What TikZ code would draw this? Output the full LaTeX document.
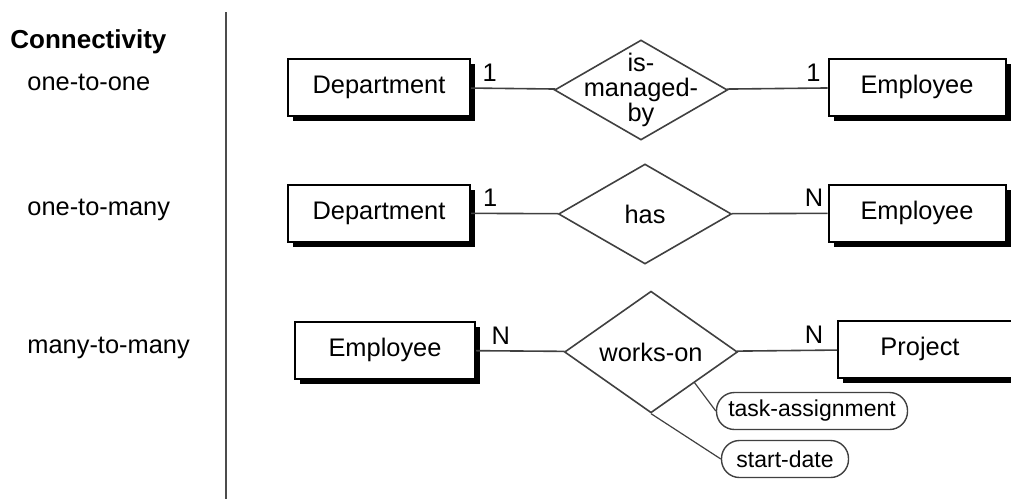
\documentclass[tikz,border=0pt]{standalone}
\usepackage{fontspec}
\setmainfont{Liberation Sans}
\usetikzlibrary{shapes.geometric, shadows}

\begin{document}
\begin{tikzpicture}[
    x=0.5pt, y=-0.5pt,
    font=\fontsize{12.7}{12.5}\selectfont,
    entity/.style={rectangle, draw=black, line width=1pt, fill=white, minimum height=28.5pt, inner sep=0pt, drop shadow={shadow xshift=2.5pt, shadow yshift=-2.5pt, fill=black, opacity=1}},
    relation/.style={diamond, draw=black!75, line width=0.8pt, fill=white, minimum width=86.5pt, minimum height=50pt, inner sep=0pt},
    attrib/.style={rectangle, rounded corners=9pt, draw=black!75, line width=0.7pt, minimum height=18.5pt, inner sep=0pt, font=\fontsize{11.5}{12}\selectfont},
    link/.style={draw=black!75, line width=0.8pt},
    card/.style={above, inner sep=3pt},
    kind/.style={anchor=west, inner sep=0pt}
]
    \useasboundingbox (0,0) rectangle (1011,499);
    \clip (0,0) rectangle (1011,499);

    % Left column
    \node[kind, font=\fontsize{13}{13}\selectfont\bfseries] (title) at (10,42) {Connectivity};
    \node[kind] (oneone) at (27,82) {one-to-one};
    \node[kind] (onemany) at (27,210) {one-to-many};
    \node[kind] (manymany) at (27,348) {many-to-many};
    \draw[black!70, line width=0.9pt] (226,12) -- (226,499);

    % Nodes
    \node[entity, minimum width=91pt] (dept1) at (379,87) {Department};
    \node[relation, label={[align=center]center:is-\\managed-\\by}] (rel1) at (641,90) {};
    \node[entity, minimum width=88.5pt] (emp1) at (917,87) {Employee};

    \node[entity, minimum width=91pt] (dept2) at (379,213) {Department};
    \node[relation] (rel2) at (645,214) {has};
    \node[entity, minimum width=88.5pt] (emp2) at (917,213) {Employee};

    \node[entity, minimum width=90pt] (emp3) at (385,350) {Employee};
    \node[relation] (rel3) at (651,352) {works-on};
    \node[entity, minimum width=101pt, label={[xshift=-9.5pt]center:Project}] (proj) at (939,349) {};

    \node[attrib, minimum width=95.5pt] (task) at (812,411) {task-assignment};
    \node[attrib, minimum width=63.5pt] (start) at (785,459) {start-date};

    % Connectors
    \draw[link] (dept1) -- node[card, pos=0.22] (c1a) {1} (rel1);
    \draw[link] (rel1) -- node[card, pos=0.86] (c1b) {1} (emp1);
    \draw[link] (dept2) -- node[card, pos=0.22] (c2a) {1} (rel2);
    \draw[link] (rel2) -- node[card, pos=0.86] (c2b) {N} (emp2);
    \draw[link] (emp3) -- node[card, pos=0.28] (c3a) {N} (rel3);
    \draw[link] (rel3) -- node[card, pos=0.77] (c3b) {N} (proj);

    % Attributes
    \draw[link, line width=0.6pt] (rel3.south east) -- (task.west);
    \draw[link, line width=0.6pt] (rel3.south) -- (start.west);
\end{tikzpicture}
\end{document}
